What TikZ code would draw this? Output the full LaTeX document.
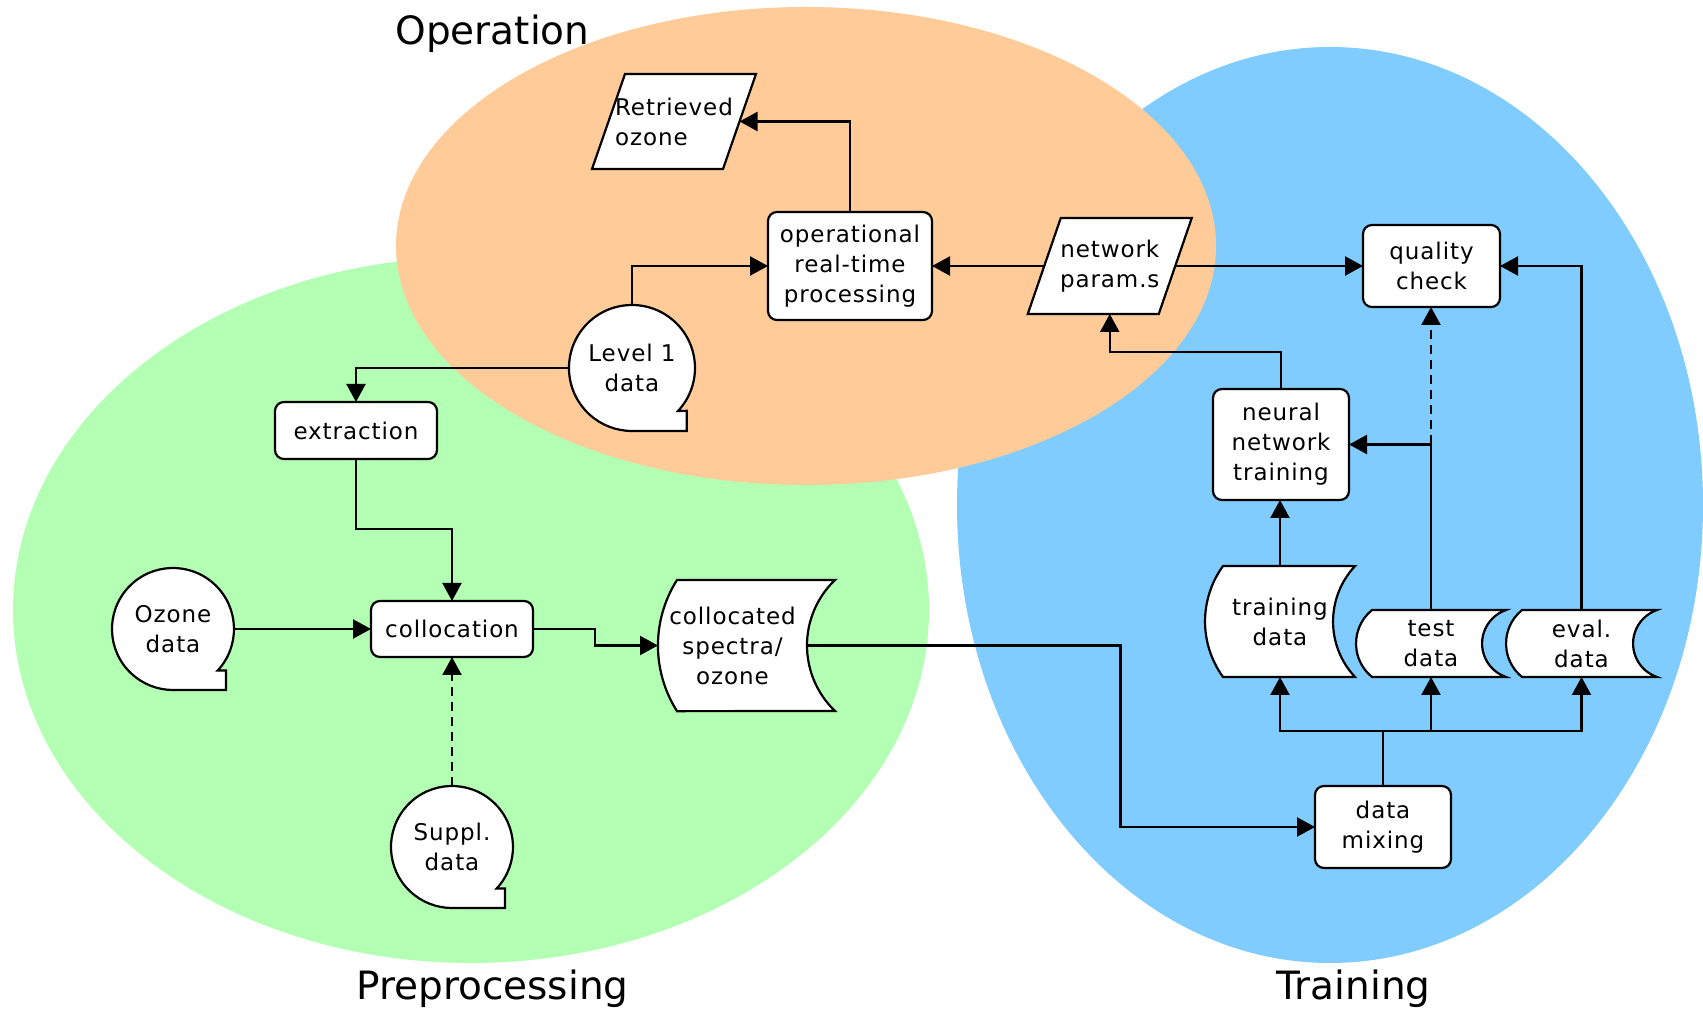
\documentclass[tikz,border=0pt]{standalone}
\usepackage{fontspec}
\setmainfont{DejaVu Sans}[LetterSpace=4]
\newfontfamily\titlefont{DejaVu Sans}
\usetikzlibrary{arrows.meta,calc}
\definecolor{greenbg}{HTML}{B3FFB3}
\definecolor{orangebg}{HTML}{FFCC99}
\definecolor{bluebg}{HTML}{80CCFF}
\pgfdeclarelayer{back}
\pgfdeclarelayer{mid}
\pgfsetlayers{back,mid,main}
\newcommand\tapeoutline[2]{%
  \draw[shapeline, fill=white] ([shift={({0.731*#2},{-0.682*#2})}]#1.center)
    arc[start angle=-43, end angle=270, radius=#2pt]
    -- ++({0.87*#2},0) -- ++(0,{0.32*#2}) -- cycle;}
\newcommand\storedoutline[7]{%
  \draw[shapeline, fill=white] ([xshift=#2pt]#1.north west)
    arc[start angle={180-#4}, end angle={180+#4}, radius=#3pt]
    -- ([xshift=#5pt]#1.south east)
    arc[start angle={180+#7}, end angle={180-#7}, radius=#6pt] -- cycle;}
\newcommand\paraoutline[2]{%
  \draw[shapeline, fill=white] ([xshift=#2pt]#1.north west) -- ([xshift=#2pt]#1.north east)
    -- ([xshift=-#2pt]#1.south east) -- ([xshift=-#2pt]#1.south west) -- cycle;}
\tikzset{
  shapeline/.style={line width=2.2pt, draw=black},
  txt/.style={font=\fontsize{23pt}{30pt}\selectfont, align=center, inner sep=0pt, outer sep=0pt},
  procbox/.style={txt, rectangle, shapeline, fill=white, rounded corners=9pt},
  plainbox/.style={txt, rectangle, draw=none},
  tapenode/.style={txt, circle, draw=none, minimum size=#1},
  conn/.style={line width=2.2pt, -{Triangle[length=18pt,width=19pt]}},
  dashconn/.style={conn, dash pattern=on 9pt off 6pt},
  titletext/.style={font=\titlefont\fontsize{39pt}{46pt}\selectfont, anchor=base, inner sep=0pt},
}
\begin{document}
\begin{tikzpicture}[x=1pt,y=1pt]
\useasboundingbox (0,0) rectangle (1703,1012);
\begin{pgfonlayer}{back}
  \fill[greenbg] (471,402) ellipse[x radius=458pt, y radius=353pt];
  \fill[bluebg] (1330,507) ellipse[x radius=373pt, y radius=458pt];
  \fill[orangebg] (806,766) ellipse[x radius=410pt, y radius=239pt];
\end{pgfonlayer}

% titles
\node[titletext] (tOp) at (492.5,967) {Operation};
\node[titletext] (tPre) at (492.5,12) {Preprocessing};
\node[titletext] (tTr) at (1353.5,12) {Training};

% nodes
\node[plainbox, minimum width=131pt, minimum height=95pt, align=left] (ro) at (674,890.5) {Retrieved\\ozone};
\node[procbox, minimum width=164pt, minimum height=108pt] (op) at (850,746) {operational\\real-time\\processing};
\node[plainbox, minimum width=131pt, minimum height=96pt] (np) at (1109.75,746) {network\\param.s};
\node[procbox, minimum width=137pt, minimum height=82pt] (qc) at (1431.5,746) {quality\\check};
\node[tapenode=126pt] (lvl) at (632,644) {Level 1\\data};
\node[procbox, minimum width=162pt, minimum height=57pt] (ext) at (356,581.5) {extraction};
\node[procbox, minimum width=136pt, minimum height=111pt] (nn) at (1281,567.5) {neural\\network\\training};
\node[tapenode=122pt] (oz) at (173,383) {Ozone\\data};
\node[procbox, minimum width=162pt, minimum height=56pt] (col) at (452,383) {collocation};
\node[plainbox, minimum width=149pt, minimum height=131pt] (cs) at (732.5,366.5) {collocated\\spectra/\\ozone};
\node[plainbox, minimum width=150pt, minimum height=111pt] (tr) at (1280,390.5) {training\\data};
\node[plainbox, minimum width=150pt, minimum height=67pt] (te) at (1431,368.5) {test\\data};
\node[plainbox, minimum width=151pt, minimum height=67pt] (ev) at (1581.5,368.5) {eval.\\data};
\node[procbox, minimum width=136pt, minimum height=82pt] (dm) at (1383,185) {data\\mixing};
\node[tapenode=122pt] (sup) at (452,165) {Suppl.\\data};

% special outlines
\begin{pgfonlayer}{mid}
  \paraoutline{ro}{16.5}
  \paraoutline{np}{16.5}
  \tapeoutline{lvl}{63}
  \tapeoutline{oz}{61}
  \tapeoutline{sup}{61}
  \storedoutline{cs}{19}{122.4}{32.4}{28}{90.6}{46.3}
  \storedoutline{tr}{18}{94.6}{35.9}{0}{81}{43.2}
  \storedoutline{te}{16}{43.1}{51}{0}{35.4}{71.1}
  \storedoutline{ev}{16}{43.1}{51}{0}{35.4}{71.1}
\end{pgfonlayer}

% connectors
\draw[conn] (op.north) |- (ro.east);
\draw[conn] (lvl.north) |- (op.west);
\draw[conn] (np.west) -- (op.east);
\draw[conn] (np.east) -- (qc.west);
\draw[conn] (lvl.west) -| (ext.north);
\draw[conn] (ext.south) -- ++(0,-70) -| (col.north);
\draw[conn] (oz.east) -- (col.west);
\draw[conn] (col.east) -- ++(62,0) |- (cs.west);
\draw[dashconn] (sup.north) -- (col.south);
\draw[conn] (cs.east) -- ++(313.5,0) |- (dm.west);
\path (dm.north) ++(0,55) coordinate (bus);
\draw[line width=2.2pt] (dm.north) -- (bus);
\draw[conn] (bus) -| (tr.south);
\draw[conn] (bus) -| (te.south);
\draw[conn] (bus) -| (ev.south);
\draw[conn] (tr.north) -- (tr.north |- nn.south);
\draw[conn] (te.north) |- (nn.east);
\draw[dashconn] (te.north |- nn.east) -- (te.north |- qc.south);
\draw[conn] (ev.north) |- (qc.east);
\draw[conn] (nn.north) -- ++(0,37) -| (np.south);
\end{tikzpicture}
\end{document}
